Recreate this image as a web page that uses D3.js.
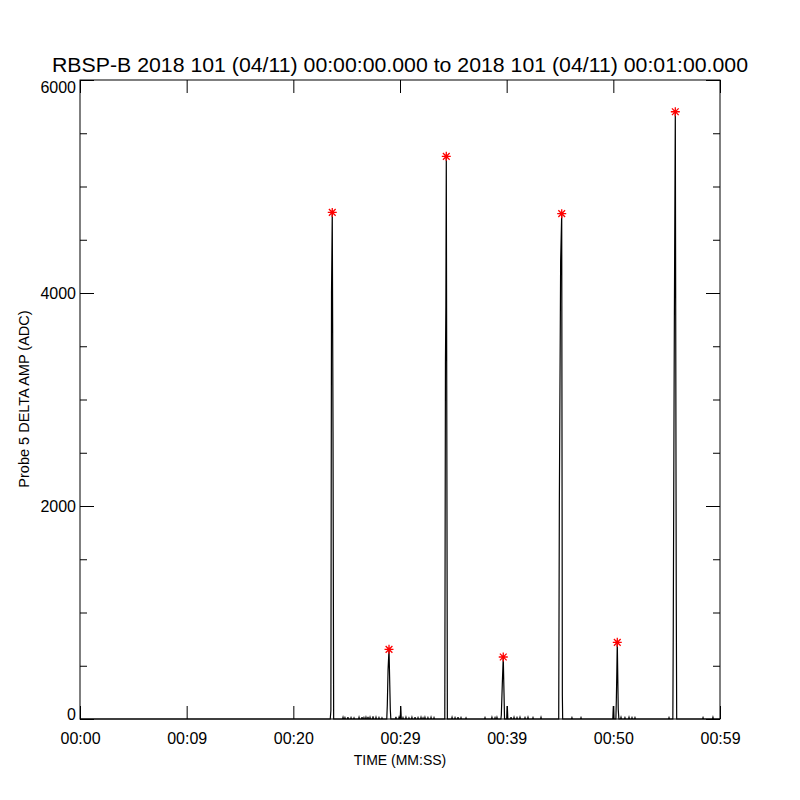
<!DOCTYPE html>
<html>
<head>
<meta charset="utf-8">
<script src="https://cdn.jsdelivr.net/npm/d3@7"></script>
<style>
  body { margin: 0; background: #fff; }
  text { font-family: "Liberation Sans", Arial, sans-serif; fill: #000; }
</style>
</head>
<body>
<div id="chartContainer"></div>
<script>
// chart data
const titleText = "RBSP-B 2018 101 (04/11) 00:00:00.000 to 2018 101 (04/11) 00:01:00.000";
const xTitle = "TIME (MM:SS)";
const yTitle = "Probe 5 DELTA AMP (ADC)";

// x ticks (seconds) and their printed labels
const timeTicks = [0, 10, 20, 30, 40, 50, 60];
const timeTickLabels = ["00:00", "00:09", "00:20", "00:29", "00:39", "00:50", "00:59"];
const ampTicks = [0, 2000, 4000, 6000];
const ampMinorTicks = [500, 1000, 1500, 2500, 3000, 3500, 4500, 5000, 5500];

// the amplitude trace: [seconds, ADC]
const ampSamples = [
  [0, 0], [23.46, 0],
  [23.52, 78], [23.58, 4000], [23.65, 4757], [23.72, 2700], [23.78, 0],
  [24.62, 0], [24.66, 15], [24.7, 0], [24.8, 0], [24.84, 12], [24.88, 0],
  [25.08, 0], [25.12, 18], [25.16, 0], [25.37, 0], [25.41, 12], [25.45, 0],
  [25.65, 0], [25.69, 10], [25.73, 0], [26.12, 0], [26.16, 15], [26.2, 0],
  [26.4, 0], [26.44, 18], [26.48, 0], [26.58, 0], [26.62, 12], [26.66, 0],
  [26.77, 0], [26.81, 15], [26.85, 0], [26.96, 0], [27.0, 20], [27.04, 0],
  [27.15, 0], [27.19, 15], [27.23, 0], [27.43, 0], [27.47, 25], [27.51, 0],
  [27.71, 0], [27.75, 15], [27.79, 0], [27.99, 0], [28.03, 12], [28.07, 0],
  [28.27, 0], [28.31, 10], [28.35, 0],
  [28.76, 0], [28.81, 131], [28.88, 460], [28.97, 654], [29.09, 91], [29.14, 0],
  [29.58, 0], [29.62, 20], [29.66, 0], [29.87, 0], [29.91, 15], [29.95, 0],
  [30.02, 0], [30.07, 122], [30.12, 0],
  [30.24, 0], [30.28, 12], [30.32, 0], [30.52, 0], [30.56, 15], [30.6, 0],
  [30.8, 0], [30.84, 10], [30.88, 0], [31.08, 0], [31.12, 15], [31.16, 0],
  [31.37, 0], [31.41, 18], [31.45, 0], [31.65, 0], [31.69, 12], [31.73, 0],
  [31.93, 0], [31.97, 15], [32.01, 0], [32.12, 0], [32.16, 10], [32.2, 0],
  [32.3, 0], [32.34, 15], [32.38, 0], [32.58, 0], [32.62, 12], [32.66, 0],
  [32.87, 0], [32.91, 15], [32.95, 0], [33.15, 0], [33.19, 12], [33.23, 0],
  [34.2, 0], [34.26, 3330], [34.3, 3880], [34.34, 5283], [34.44, 0],
  [34.84, 0], [34.88, 15], [34.92, 0], [35.12, 0], [35.16, 12], [35.2, 0],
  [35.4, 0], [35.44, 18], [35.48, 0], [35.68, 0], [35.72, 12], [35.76, 0],
  [36.15, 0], [36.19, 10], [36.23, 0], [37.93, 0], [37.97, 12], [38.01, 0],
  [38.58, 0], [38.62, 15], [38.66, 0], [38.87, 0], [38.91, 12], [38.95, 0],
  [39.05, 0], [39.09, 15], [39.13, 0],
  [39.46, 0], [39.5, 38], [39.59, 325], [39.68, 582], [39.75, 247], [39.8, 0],
  [40.01, 0], [40.06, 122], [40.11, 0],
  [40.37, 0], [40.41, 18], [40.45, 0], [40.65, 0], [40.69, 15], [40.73, 0],
  [40.93, 0], [40.97, 12], [41.01, 0], [41.21, 0], [41.25, 15], [41.29, 0],
  [41.68, 0], [41.72, 12], [41.76, 0], [41.96, 0], [42.0, 15], [42.04, 0],
  [42.43, 0], [42.47, 12], [42.51, 0], [43.18, 0], [43.22, 15], [43.26, 0],
  [44.88, 0], [44.94, 2050], [45.06, 4300], [45.16, 4745], [45.22, 225], [45.25, 0],
  [46.08, 0], [46.12, 12], [46.16, 0], [46.93, 0], [46.97, 12], [47.01, 0],
  [49.95, 0], [50.0, 122], [50.05, 0],
  [50.24, 0], [50.28, 169], [50.33, 450], [50.37, 720], [50.46, 91], [50.52, 0],
  [50.68, 0], [50.72, 15], [50.76, 0], [51.05, 0], [51.09, 12], [51.13, 0],
  [51.43, 0], [51.47, 15], [51.51, 0], [51.71, 0], [51.75, 12], [51.79, 0],
  [51.99, 0], [52.03, 12], [52.07, 0], [55.18, 0], [55.22, 12], [55.26, 0],
  [55.58, 0], [55.62, 882], [55.72, 3735], [55.81, 5702], [55.9, 1117], [55.94, 0],
  [58.37, 0], [58.41, 12], [58.45, 0], [59.3, 0], [59.34, 15], [59.38, 0],
  [60, 0]
];

// the red asterisk markers on the spike maxima
const peakTimes = [23.65, 28.97, 34.34, 39.68, 45.16, 50.37, 55.81];
const peakValues = [4757, 654, 5283, 582, 4745, 720, 5702];

// layout
const W = 800, H = 800;
const margin = { top: 80, right: 80, bottom: 81, left: 80 },
  width = W - margin.left - margin.right,
  height = H - margin.top - margin.bottom;

const svg = d3
  .select("#chartContainer")
  .append("svg")
  .attr("width", W)
  .attr("height", H);

const g = svg.append("g").attr("transform", "translate(" + margin.left + "," + margin.top + ")");

const x = d3.scaleLinear().domain([0, 60]).range([0, width]);
const y = d3.scaleLinear().domain([0, 6000]).range([height, 0]);

// the trace
const line = d3
  .line()
  .x((d) => x(d[0]))
  .y((d) => y(d[1]));

g.append("path")
  .datum(ampSamples)
  .attr("d", line)
  .attr("fill", "none")
  .attr("stroke", "#000")
  .attr("stroke-width", 1.2);

// axes: ticks point inward on all four sides
const styleAxis = (sel) => {
  sel.select(".domain").remove();
  sel.selectAll(".tick line").attr("stroke", "#000");
  sel.selectAll(".tick text").style("font-size", "16px").style("font-family", "Liberation Sans, Arial, sans-serif");
};

g.append("g")
  .attr("transform", "translate(0," + height + ")")
  .call(
    d3.axisBottom(x)
      .tickValues(timeTicks)
      .tickSize(-13)
      .tickPadding(14)
      .tickFormat((d, i) => timeTickLabels[i])
  )
  .call(styleAxis);

g.append("g")
  .call(d3.axisTop(x).tickValues(timeTicks).tickSize(-13).tickFormat(""))
  .call(styleAxis);

// y labels: the end ones sit inside the frame, as in the reference
g.append("g")
  .call(d3.axisLeft(y).tickValues(ampTicks).tickSize(-14).tickPadding(4).tickFormat(d3.format("d")))
  .call(styleAxis)
  .selectAll(".tick text")
  .attr("dy", (d) => (d === 6000 ? "0.75em" : d === 0 ? "0.05em" : "0.32em"));
g.append("g")
  .call(d3.axisLeft(y).tickValues(ampMinorTicks).tickSize(-7).tickFormat(""))
  .call(styleAxis);

g.append("g")
  .attr("transform", "translate(" + width + ",0)")
  .call(d3.axisRight(y).tickValues(ampTicks).tickSize(-14).tickFormat(""))
  .call(styleAxis);
g.append("g")
  .attr("transform", "translate(" + width + ",0)")
  .call(d3.axisRight(y).tickValues(ampMinorTicks).tickSize(-7).tickFormat(""))
  .call(styleAxis);

// frame
g.append("rect")
  .attr("x", 0)
  .attr("y", 0)
  .attr("width", width)
  .attr("height", height)
  .attr("fill", "none")
  .attr("stroke", "#000")
  .attr("stroke-width", 1);

// asterisk markers (plus + cross, like an IDL psym=2)
const star = {
  draw(context, size) {
    const r = Math.sqrt(size) / 2;
    const s = r * 0.75;
    context.moveTo(-r, 0); context.lineTo(r, 0);
    context.moveTo(0, -r); context.lineTo(0, r);
    context.moveTo(-s, -s); context.lineTo(s, s);
    context.moveTo(-s, s); context.lineTo(s, -s);
  }
};

g.append("g")
  .selectAll("path")
  .data(peakTimes)
  .enter()
  .append("path")
  .attr("transform", (d, i) => "translate(" + x(d) + "," + y(peakValues[i]) + ")")
  .attr("d", d3.symbol().type(star).size(81))
  .attr("fill", "none")
  .attr("stroke", "#ff0000")
  .attr("stroke-width", 1.3);

// titles
svg.append("text")
  .attr("x", W / 2)
  .attr("y", 72)
  .attr("text-anchor", "middle")
  .attr("textLength", 696)
  .attr("lengthAdjust", "spacingAndGlyphs")
  .style("font-size", "20px")
  .text(titleText);

svg.append("text")
  .attr("x", margin.left + width / 2)
  .attr("y", 765)
  .attr("text-anchor", "middle")
  .style("font-size", "14px")
  .text(xTitle);

svg.append("text")
  .attr("transform", "translate(29," + 399 + ") rotate(-90)")
  .attr("text-anchor", "middle")
  .style("font-size", "14.5px")
  .text(yTitle);
</script>
</body>
</html>
